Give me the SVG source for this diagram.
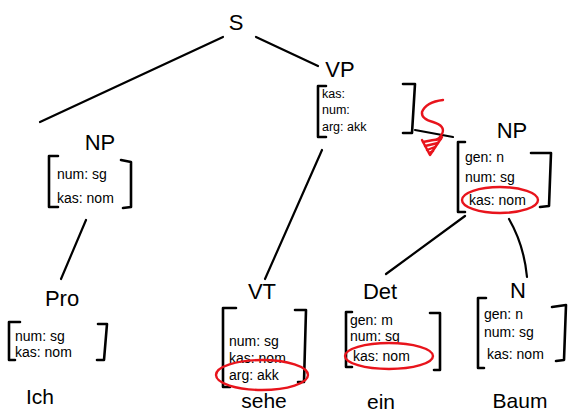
<svg xmlns="http://www.w3.org/2000/svg" width="570" height="413" viewBox="0 0 570 413">
<style>
.ln{stroke:#000;stroke-width:2.2;fill:none;stroke-linecap:round;stroke-linejoin:round}
.br{stroke:#000;stroke-width:2.6;fill:none;stroke-linecap:round;stroke-linejoin:round}
.red{stroke:#e8141c;stroke-width:2.4;fill:none;stroke-linecap:round;stroke-linejoin:round}
.lab{font-family:"Liberation Sans",sans-serif;font-size:22px;fill:#000;text-anchor:middle}
.att{font-family:"Liberation Sans",sans-serif;font-size:14px;fill:#000}
.sm{font-size:12.5px}
.wd{font-family:"Liberation Sans",sans-serif;font-size:21px;fill:#000;text-anchor:middle}
</style>
<rect width="570" height="413" fill="#fff"/>
<g id="connectors">
<path class="ln" d="M223 37 L40 122"/>
<path class="ln" d="M256 37 L318 66"/>
<path class="ln" d="M415 130 L453 137"/>
<path class="ln" d="M86 220 L61 279"/>
<path class="ln" d="M322 150 L265 279"/>
<path class="ln" d="M465 216 L386 274"/>
<path class="ln" d="M509 219 Q524 245 527 277"/>
</g>
<g id="S"><text class="lab" x="236" y="30">S</text></g>
<g id="VP">
<text class="lab" x="340" y="77">VP</text>
<path class="br" d="M326 86 L318 86 L318 137 L326 137"/>
<path class="br" d="M403 84 L415 84 L412 133 L403 133"/>
<text class="att sm" x="322" y="98">kas:</text>
<text class="att sm" x="322" y="114">num:</text>
<text class="att sm" x="322" y="131">arg: akk</text>
<path class="red" d="M443 100 Q426 102 422 112 Q421 119 433 122 Q446 126 442 134 Q440 138 436 140"/>
<path class="red" d="M422 140 L430 155 L442 137"/>
<path class="red" d="M423 142 Q432 140 441 139 M425 146 L438 143 M427 150 L435 147 M429 153 L433 151"/>
</g>
<g id="NP_left">
<text class="lab" x="100" y="150">NP</text>
<path class="br" d="M58 156 L49 156 L49 207 L58 207"/>
<path class="br" d="M121 160 L131 162 L131 207 L123 208"/>
<text class="att" x="57" y="179">num: sg</text>
<text class="att" x="57" y="203">kas: nom</text>
</g>
<g id="NP_right">
<text class="lab" x="512" y="138">NP</text>
<path class="br" d="M465 142 L458 142 L458 212 L465 212"/>
<path class="br" d="M531 153 L551 153 L549 206 L540 207"/>
<text class="att" x="465" y="162">gen: n</text>
<text class="att" x="465" y="182">num: sg</text>
<text class="att" x="469" y="205">kas: nom</text>
<ellipse class="red" cx="500" cy="200" rx="38" ry="13"/>
</g>
<g id="Pro">
<text class="lab" x="62" y="306">Pro</text>
<path class="br" d="M20 322 L9 322 L9 360 L15 360"/>
<path class="br" d="M98 324 L107 324 L104 360 L97 360"/>
<text class="att" x="15" y="341">num: sg</text>
<text class="att" x="15" y="357">kas: nom</text>
<text class="wd" x="40" y="404">Ich</text>
</g>
<g id="VT">
<text class="lab" x="262" y="299">VT</text>
<path class="br" d="M236 308 L223 308 L223 387 L230 387"/>
<path class="br" d="M295 310 L306 310 L304 382 L298 382"/>
<text class="att" x="229" y="346">num: sg</text>
<text class="att" x="229" y="363">kas: nom</text>
<text class="att" x="229" y="380">arg: akk</text>
<ellipse class="red" cx="262" cy="375" rx="46" ry="15"/>
<text class="wd" x="264" y="408">sehe</text>
</g>
<g id="Det">
<text class="lab" x="380" y="299">Det</text>
<path class="br" d="M352 312 L346 312 L346 367 L352 367"/>
<path class="br" d="M430 313 L440 313 L440 370 L434 370"/>
<text class="att" x="350" y="325">gen: m</text>
<text class="att" x="350" y="341">num: sg</text>
<text class="att" x="353" y="361">kas: nom</text>
<ellipse class="red" cx="389" cy="356" rx="44" ry="13"/>
<text class="wd" x="381" y="409">ein</text>
</g>
<g id="N">
<text class="lab" x="518" y="298">N</text>
<path class="br" d="M486 298 L478 298 L478 368 L484 368"/>
<path class="br" d="M552 307 L566 305 L564 360 L556 361"/>
<text class="att" x="484" y="319">gen: n</text>
<text class="att" x="484" y="337">num: sg</text>
<text class="att" x="487" y="359">kas: nom</text>
<text class="wd" x="520" y="408">Baum</text>
</g>
</svg>
